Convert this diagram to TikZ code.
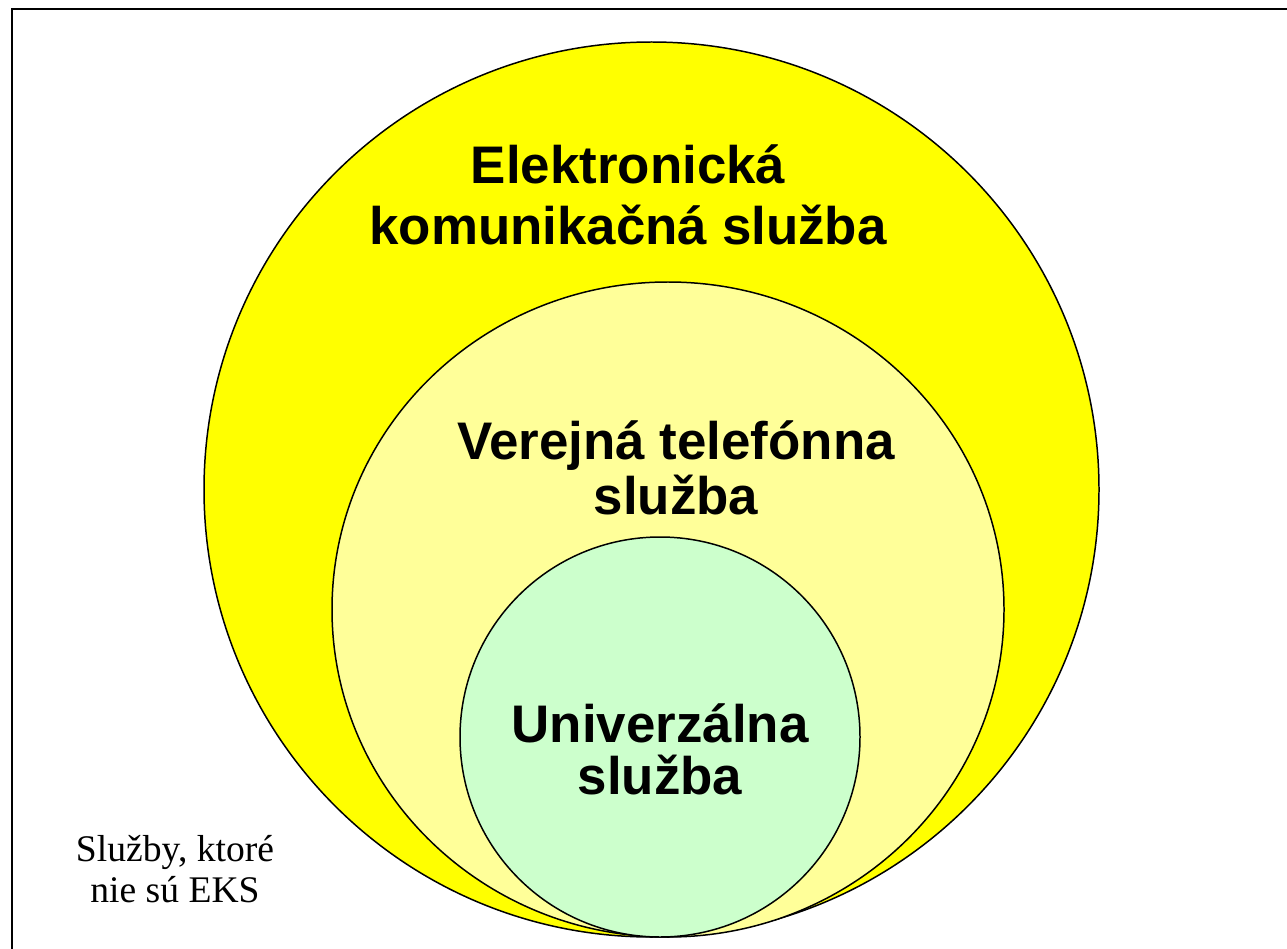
\documentclass[tikz,border=0pt]{standalone}
\usepackage{fontspec}
\setmainfont{Liberation Serif}
\newfontfamily\arialfont{Liberation Sans}
\usepackage{tikz}

\definecolor{eksyellow}{HTML}{FFFF00}
\definecolor{vtsyellow}{HTML}{FFFF99}
\definecolor{usgreen}{HTML}{CCFFCC}

\tikzset{
  bigtext/.style={inner sep=0pt, align=center, anchor=base, font=\arialfont\bfseries\fontsize{30.1}{#1}\selectfont},
  smalltext/.style={inner sep=0pt, align=center, anchor=base, font=\fontsize{21.4}{23.2}\selectfont}
}

\begin{document}
\begin{tikzpicture}
\begin{scope}[x=0.02cm, y=-0.02cm]
\useasboundingbox (0,0) rectangle (1287,949);

\draw[line width=1.1pt] (12,949) -- (12,9) -- (1287,9);

\filldraw[line width=0.85pt, fill=eksyellow] (651.5,489.5) ellipse (447.5 and 447.5);
\filldraw[line width=0.85pt, fill=vtsyellow] (668,609.5) ellipse (336 and 327.5);
\filldraw[line width=0.85pt, fill=usgreen] (660,737) circle (200);

% anchor=base sits on the last line
\node[bigtext=35.2pt] (eks) at (628,245) {Elektronická\\komunikačná služba};
\node[bigtext=30.8pt] (vts) at (676,514) {Verejná telefónna\\služba};
\node[bigtext=29.2pt] (us) at (660,794) {Univerzálna\\služba};

\node[smalltext] (mimo) at (175,902) {Služby, ktoré\\nie sú EKS};

\end{scope}
\end{tikzpicture}
\end{document}
